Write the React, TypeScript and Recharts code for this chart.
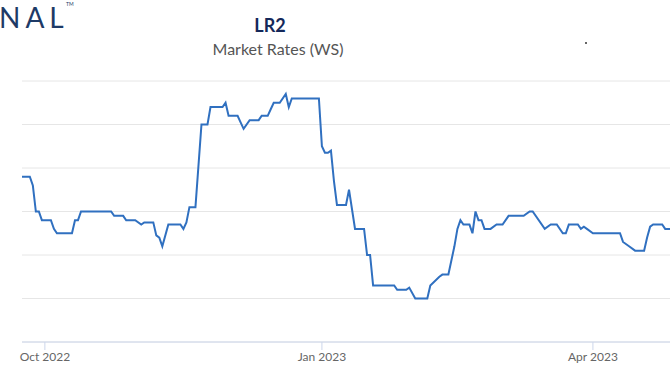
import { LineChart, Line, XAxis, YAxis, CartesianGrid } from "recharts"

// daily WS readings, Sep 2022 - Apr 2023
const dates = [
  "2022-09-23", "2022-09-26", "2022-09-27", "2022-09-28", "2022-09-29", "2022-09-30",
  "2022-10-03", "2022-10-04", "2022-10-05", "2022-10-10", "2022-10-11", "2022-10-12",
  "2022-10-13", "2022-10-23", "2022-10-24", "2022-10-27", "2022-10-28", "2022-10-31",
  "2022-11-02", "2022-11-03", "2022-11-06", "2022-11-07", "2022-11-08", "2022-11-09",
  "2022-11-11", "2022-11-15", "2022-11-16", "2022-11-17", "2022-11-18", "2022-11-20",
  "2022-11-22", "2022-11-24", "2022-11-25", "2022-11-29", "2022-11-30", "2022-12-01",
  "2022-12-04", "2022-12-05", "2022-12-06", "2022-12-08", "2022-12-11", "2022-12-12",
  "2022-12-14", "2022-12-15", "2022-12-16", "2022-12-18", "2022-12-20", "2022-12-21",
  "2022-12-22", "2022-12-31", "2023-01-01", "2023-01-02", "2023-01-03", "2023-01-04",
  "2023-01-05", "2023-01-06", "2023-01-09", "2023-01-10", "2023-01-12", "2023-01-15",
  "2023-01-16", "2023-01-17", "2023-01-18", "2023-01-25", "2023-01-26", "2023-01-29",
  "2023-01-30", "2023-02-01", "2023-02-05", "2023-02-06", "2023-02-09", "2023-02-10",
  "2023-02-12", "2023-02-14", "2023-02-15", "2023-02-16", "2023-02-17", "2023-02-19",
  "2023-02-20", "2023-02-21", "2023-02-22", "2023-02-23", "2023-02-24", "2023-02-26",
  "2023-02-28", "2023-03-02", "2023-03-04", "2023-03-09", "2023-03-11", "2023-03-12",
  "2023-03-16", "2023-03-18", "2023-03-20", "2023-03-22", "2023-03-23", "2023-03-24",
  "2023-03-27", "2023-03-28", "2023-03-29", "2023-03-30", "2023-04-01", "2023-04-10",
  "2023-04-11", "2023-04-13", "2023-04-15", "2023-04-18", "2023-04-19", "2023-04-20",
  "2023-04-21", "2023-04-24", "2023-04-25", "2023-04-28",
]

const rates = [
  290, 290, 280, 250, 250, 240,
  240, 230, 225, 225, 240, 240,
  250, 250, 245, 245, 240, 240,
  235, 237.5, 237.5, 222.5, 220, 210,
  235, 235, 230, 237.5, 255, 255,
  350, 350, 370, 370, 375, 360,
  360, 352.5, 345, 355, 355, 360,
  360, 367.5, 375, 375, 385, 370,
  380, 380, 325, 317.5, 317.5, 320,
  285, 257.5, 257.5, 275, 230, 230,
  200, 200, 165, 165, 160, 160,
  162.5, 150, 150, 165, 175, 177.5,
  177.5, 210, 230, 240, 235, 235,
  225, 250, 240, 240, 230, 230,
  235, 235, 245, 245, 250, 250,
  230, 235, 235, 225, 225, 235,
  235, 230, 232.5, 230, 225, 225,
  215, 210, 205, 205, 220, 232.5,
  235, 235, 230, 230,
]

const tickDates = ["2022-10-01", "2023-01-01", "2023-04-01"]
const tickLabels = ["Oct 2022", "Jan 2023", "Apr 2023"]
const yTicks = [100, 150, 200, 250, 300, 350, 400]

const DAY = 86400000
const origin = Date.parse("2022-10-01")
const toDay = (d: string) => (Date.parse(d) - origin) / DAY

const data = dates.map((d, i) => ({ day: toDay(d), rate: rates[i] }))
const tickDays = tickDates.map(toDay)

const font = "Lato, 'Open Sans', sans-serif"

export default function App() {
  return (
    <div style={{ position: "absolute", left: 0, top: 0, width: 670, height: 379, background: "#fff", fontFamily: font, overflow: "hidden" }}>
      <div style={{ position: "absolute", left: -1, top: 3, fontSize: 28, lineHeight: "28px", fontWeight: 400, color: "#1e3a66" }}>
        <span style={{ letterSpacing: 5 }}>NA</span>L
      </div>
      <div style={{ position: "absolute", left: 66, top: 2, fontSize: 5, lineHeight: "5px", color: "#1e3a66" }}>TM</div>
      <div style={{ position: "absolute", left: 170, top: 16, width: 200, textAlign: "center", fontSize: 18, lineHeight: "18px", fontWeight: 700, color: "#14285a" }}>
        LR2
      </div>
      <div style={{ position: "absolute", left: 178, top: 41, width: 200, textAlign: "center", fontSize: 16, lineHeight: "16px", color: "#555" }}>
        Market Rates (WS)
      </div>
      <div style={{ position: "absolute", left: 585, top: 42, width: 2, height: 2, background: "#666" }} />

      <LineChart width={670} height={379} data={data} margin={{ top: 81, right: 0, bottom: 0, left: 22 }}>
        <CartesianGrid horizontal vertical={false} stroke="#e6e6e6" />
        <XAxis
          type="number"
          dataKey="day"
          domain={[-7.6, 207.6]}
          allowDataOverflow
          ticks={tickDays}
          tickFormatter={(v: number) => tickLabels[tickDays.indexOf(v)] ?? ""}
          height={37}
          stroke="#ccd6eb"
          tickSize={8}
          tickMargin={2}
          tick={{ fill: "#666", fontSize: 12, fontFamily: font }}
        />
        <YAxis hide domain={[100, 400]} ticks={yTicks} />
        <Line
          type="linear"
          dataKey="rate"
          stroke="#3070c0"
          strokeWidth={2}
          dot={false}
          isAnimationActive={false}
        />
      </LineChart>
    </div>
  )
}
